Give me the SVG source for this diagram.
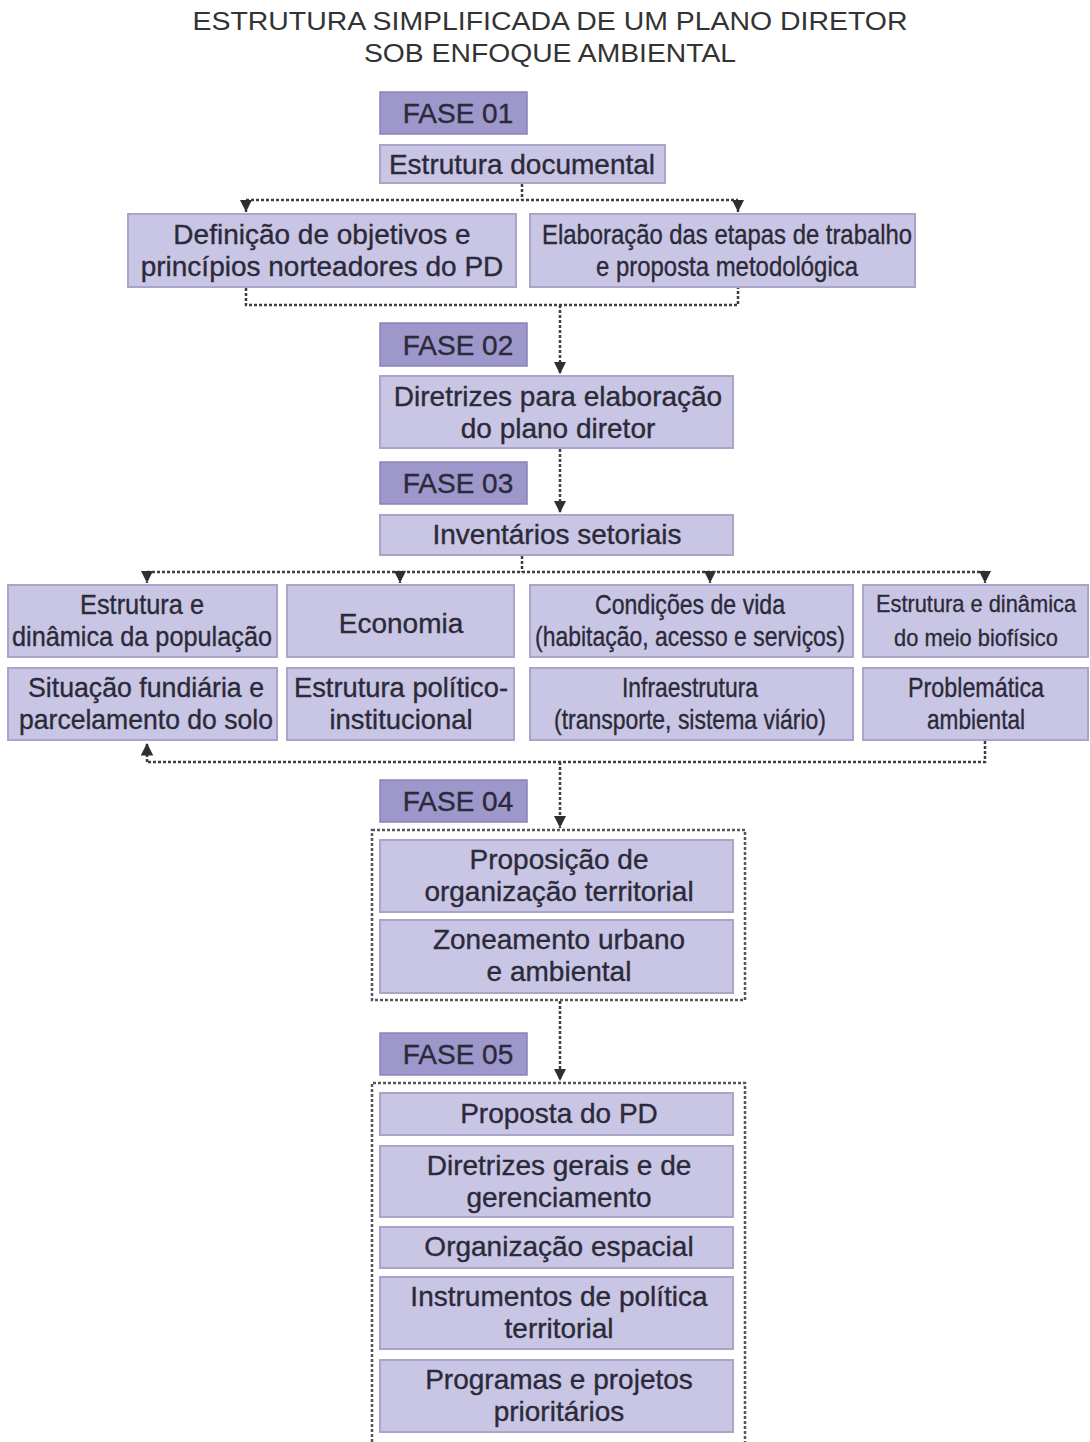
<svg xmlns="http://www.w3.org/2000/svg" width="1090" height="1442" viewBox="0 0 1090 1442">
<style>
.bg{fill:#ffffff}
.fase{fill:#9d97cc;stroke:#8a84b8;stroke-width:1.5}
.box{fill:#c9c5e5;stroke:#a9a5c8;stroke-width:2}
.t{font-family:"Liberation Sans",Arial,sans-serif;font-size:28px;fill:#2b2a38;stroke:#2b2a38;stroke-width:0.35;text-anchor:middle}
.ft{font-family:"Liberation Sans",Arial,sans-serif;font-size:28px;fill:#2b2a38;stroke:#2b2a38;stroke-width:0.35;text-anchor:middle}
.title{font-family:"Liberation Sans",Arial,sans-serif;font-size:26px;fill:#333;text-anchor:middle}
.dl{fill:none;stroke:#3d3d44;stroke-width:2.5;stroke-dasharray:3 2}
.cont{fill:none;stroke:#55555c;stroke-width:2.5;stroke-dasharray:3 2}
</style>
<defs>
<marker id="ah" viewBox="0 0 10 10" refX="10" refY="5" markerWidth="5" markerHeight="5" orient="auto" markerUnits="strokeWidth">
<path d="M0,0 L10,5 L0,10 Z" fill="#2e2e33"/>
</marker>
</defs>
<rect class="bg" x="0" y="0" width="1090" height="1442"/>
<g id="title">
<text class="title" x="550" y="30" textLength="715" lengthAdjust="spacingAndGlyphs">ESTRUTURA SIMPLIFICADA DE UM PLANO DIRETOR</text>
<text class="title" x="550" y="62" textLength="372" lengthAdjust="spacingAndGlyphs">SOB ENFOQUE AMBIENTAL</text>
</g>
<g id="connectors">
<path class="dl" d="M522,184 V200"/>
<path class="dl" d="M246,200 H738"/>
<path class="dl" d="M246,200 V212" marker-end="url(#ah)"/>
<path class="dl" d="M738,200 V212" marker-end="url(#ah)"/>
<path class="dl" d="M246,288 V305 H738 V288"/>
<path class="dl" d="M560,305 V374" marker-end="url(#ah)"/>
<path class="dl" d="M560,449 V513" marker-end="url(#ah)"/>
<path class="dl" d="M522,556 V572"/>
<path class="dl" d="M147,572 H985"/>
<path class="dl" d="M147,572 V583" marker-end="url(#ah)"/>
<path class="dl" d="M400,572 V583" marker-end="url(#ah)"/>
<path class="dl" d="M710,572 V583" marker-end="url(#ah)"/>
<path class="dl" d="M985,572 V583" marker-end="url(#ah)"/>
<path class="dl" d="M985,741 V762 H147"/>
<path class="dl" d="M147,762 V743" marker-end="url(#ah)"/>
<path class="dl" d="M560,762 V828" marker-end="url(#ah)"/>
<path class="dl" d="M560,1001 V1081" marker-end="url(#ah)"/>
</g>
<g id="fase01"><rect class="fase" x="380" y="92" width="147" height="42"/><text class="ft" x="458" y="123">FASE 01</text></g>
<g id="estrutura-documental"><rect class="box" x="380" y="145" width="285" height="38"/><text class="t" x="522" y="174">Estrutura documental</text></g>
<g id="definicao"><rect class="box" x="128" y="214" width="388" height="73"/><text class="t" x="322" y="244">Definição de objetivos e</text><text class="t" x="322" y="276">princípios norteadores do PD</text></g>
<g id="elaboracao"><rect class="box" x="530" y="214" width="385" height="73"/><text class="t" x="727" y="244" textLength="370" lengthAdjust="spacingAndGlyphs">Elaboração das etapas de trabalho</text><text class="t" x="727" y="276" textLength="262" lengthAdjust="spacingAndGlyphs">e proposta metodológica</text></g>
<g id="fase02"><rect class="fase" x="380" y="323" width="147" height="43"/><text class="ft" x="458" y="355">FASE 02</text></g>
<g id="diretrizes"><rect class="box" x="380" y="376" width="353" height="72"/><text class="t" x="558" y="406">Diretrizes para elaboração</text><text class="t" x="558" y="438">do plano diretor</text></g>
<g id="fase03"><rect class="fase" x="380" y="462" width="147" height="42"/><text class="ft" x="458" y="493">FASE 03</text></g>
<g id="inventarios"><rect class="box" x="380" y="515" width="353" height="40"/><text class="t" x="557" y="544">Inventários setoriais</text></g>
<g id="estrutura-populacao"><rect class="box" x="8" y="585" width="269" height="72"/><text class="t" x="142" y="614" textLength="124" lengthAdjust="spacingAndGlyphs">Estrutura e</text><text class="t" x="142" y="646" textLength="260" lengthAdjust="spacingAndGlyphs">dinâmica da população</text></g>
<g id="economia"><rect class="box" x="287" y="585" width="227" height="72"/><text class="t" x="401" y="633">Economia</text></g>
<g id="condicoes-vida"><rect class="box" x="530" y="585" width="323" height="72"/><text class="t" x="690" y="614" textLength="190" lengthAdjust="spacingAndGlyphs">Condições de vida</text><text class="t" x="0" y="0" transform="translate(690,646) scale(0.82,1)">(habitação, acesso e serviços)</text></g>
<g id="meio-biofisico"><rect class="box" x="863" y="585" width="225" height="72"/><text class="t" x="0" y="0" transform="translate(976,612) scale(0.78,0.88)">Estrutura e dinâmica</text><text class="t" x="0" y="0" transform="translate(976,646) scale(0.78,0.88)">do meio biofísico</text></g>
<g id="situacao-fundiaria"><rect class="box" x="8" y="668" width="269" height="72"/><text class="t" x="146" y="697" textLength="236" lengthAdjust="spacingAndGlyphs">Situação fundiária e</text><text class="t" x="146" y="729" textLength="254" lengthAdjust="spacingAndGlyphs">parcelamento do solo</text></g>
<g id="estrutura-politico"><rect class="box" x="287" y="668" width="227" height="72"/><text class="t" x="401" y="697" textLength="214" lengthAdjust="spacingAndGlyphs">Estrutura político-</text><text class="t" x="401" y="729" textLength="143" lengthAdjust="spacingAndGlyphs">institucional</text></g>
<g id="infraestrutura"><rect class="box" x="530" y="668" width="323" height="72"/><text class="t" x="690" y="697" textLength="136" lengthAdjust="spacingAndGlyphs">Infraestrutura</text><text class="t" x="690" y="729" textLength="272" lengthAdjust="spacingAndGlyphs">(transporte, sistema viário)</text></g>
<g id="problematica"><rect class="box" x="863" y="668" width="225" height="72"/><text class="t" x="976" y="697" textLength="136" lengthAdjust="spacingAndGlyphs">Problemática</text><text class="t" x="976" y="729" textLength="98" lengthAdjust="spacingAndGlyphs">ambiental</text></g>
<g id="fase04"><rect class="fase" x="380" y="780" width="147" height="42"/><text class="ft" x="458" y="811">FASE 04</text></g>
<g id="fase04-grupo">
<rect class="cont" x="372" y="830" width="373" height="170"/>
<g id="proposicao"><rect class="box" x="380" y="840" width="353" height="72"/><text class="t" x="559" y="869">Proposição de</text><text class="t" x="559" y="901">organização territorial</text></g>
<g id="zoneamento"><rect class="box" x="380" y="920" width="353" height="73"/><text class="t" x="559" y="949">Zoneamento urbano</text><text class="t" x="559" y="981">e ambiental</text></g>
</g>
<g id="fase05"><rect class="fase" x="380" y="1033" width="147" height="42"/><text class="ft" x="458" y="1064">FASE 05</text></g>
<g id="fase05-grupo">
<path class="cont" d="M372,1442 V1083 H745 V1442"/>
<g id="proposta-pd"><rect class="box" x="380" y="1093" width="353" height="42"/><text class="t" x="559" y="1123">Proposta do PD</text></g>
<g id="diretrizes-gerais"><rect class="box" x="380" y="1146" width="353" height="71"/><text class="t" x="559" y="1175">Diretrizes gerais e de</text><text class="t" x="559" y="1207">gerenciamento</text></g>
<g id="organizacao-espacial"><rect class="box" x="380" y="1227" width="353" height="41"/><text class="t" x="559" y="1256">Organização espacial</text></g>
<g id="instrumentos"><rect class="box" x="380" y="1277" width="353" height="72"/><text class="t" x="559" y="1306">Instrumentos de política</text><text class="t" x="559" y="1338">territorial</text></g>
<g id="programas"><rect class="box" x="380" y="1360" width="353" height="72"/><text class="t" x="559" y="1389">Programas e projetos</text><text class="t" x="559" y="1421">prioritários</text></g>
</g>
</svg>
